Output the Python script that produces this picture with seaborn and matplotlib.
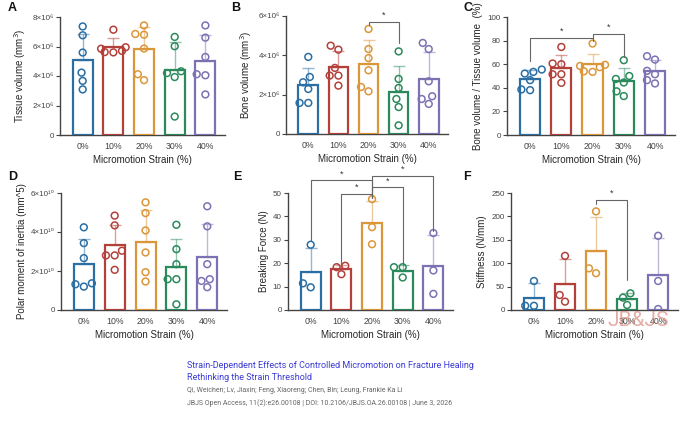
import numpy as np
import pandas as pd
import seaborn as sns
import matplotlib.pyplot as plt
from matplotlib.collections import PathCollection

# groups and colours
groups = ["0%", "10%", "20%", "30%", "40%"]
colors = ["#2a6ea3", "#b3403a", "#db963a", "#2b8a5c", "#7b72b3"]

# values (A: x10^6, B: x10^6, D: x10^10)
tissue_vol = [[7.36, 6.76, 5.59, 4.23, 3.67, 3.09],
              [7.14, 5.95, 5.85, 5.70, 5.60, 5.62],
              [7.43, 6.85, 6.80, 5.86, 4.12, 3.72],
              [6.65, 6.02, 4.32, 4.20, 3.93, 1.25],
              [7.43, 6.60, 5.29, 4.12, 4.05, 2.75]]
bone_vol = [[3.92, 2.90, 2.63, 2.29, 1.58, 1.58],
            [4.49, 4.29, 3.36, 2.97, 2.97, 2.46],
            [5.34, 4.32, 3.86, 3.24, 2.39, 2.17],
            [4.20, 2.80, 2.34, 1.78, 1.37, 0.44],
            [4.63, 4.32, 2.68, 1.92, 1.78, 1.53]]
bv_tv = [[55.5, 53.5, 52.1, 46.5, 38.6, 38.0],
         [74.6, 60.6, 60.0, 51.5, 51.5, 44.2],
         [77.5, 59.5, 58.5, 57.5, 54.0, 53.5],
         [63.4, 50.0, 47.5, 44.5, 37.0, 33.0],
         [66.8, 63.9, 54.4, 51.5, 46.5, 43.7]]
polar_moment = [[4.24, 3.43, 2.66, 1.37, 1.32, 1.20],
                [4.84, 4.34, 3.04, 2.80, 2.80, 2.06],
                [5.52, 4.97, 4.08, 2.95, 1.94, 1.46],
                [4.37, 3.12, 2.35, 1.58, 1.58, 0.29],
                [5.32, 4.29, 2.35, 1.58, 1.49, 1.17]]
breaking_force = [[27.9, 11.4, 9.7],
                  [18.9, 18.3, 15.3],
                  [47.4, 35.4, 28.1],
                  [18.3, 18.3, 13.9],
                  [32.9, 16.9, 6.9]]
stiffness = [[62, 9, 9],
             [115.7, 32, 17.9],
             [210.7, 89, 78.6],
             [35.7, 26.4, 10.7],
             [158.6, 62, 2.1]]

# significance brackets: (group1, group2, height, left leg end, right leg end)
brackets_b = [(2, 3, 5.68, 5.56, 4.63)]
brackets_c = [(0, 2, 82.5, 63, 80), (2, 3, 86, 82.5, 66)]
brackets_e = [(0, 2, 55.4, 29.3, 48), (1, 2, 49.7, 19.3, 48),
              (2, 3, 52.4, 48, 19.3), (2, 4, 57.4, 48, 33.6)]
brackets_f = [(2, 3, 235.7, 226, 64)]

sns.set_theme(style="ticks")
plt.rcParams["font.family"] = ["Liberation Sans", "DejaVu Sans"]
plt.rcParams["axes.edgecolor"] = "#444444"
plt.rcParams["xtick.color"] = "#444444"
plt.rcParams["ytick.color"] = "#444444"


def long_df(values):
    rows = [(g, v) for g, vals in zip(groups, values) for v in vals]
    return pd.DataFrame(rows, columns=["strain", "value"])


def sci_label(exp):
    sup = str.maketrans("0123456789", "⁰¹²³⁴⁵⁶⁷⁸⁹")
    def fmt(v, pos):
        if v == 0:
            return "0"
        return f"{v:g}×10{str(exp).translate(sup)}"
    return fmt


def panel(ax, values, ymax, step, ylabel, exp=None, brackets=(), star_dy=0.0):
    df = long_df(values)
    sns.swarmplot(data=df, x="strain", y="value", hue="strain", order=groups,
                  palette=colors, size=4.9, legend=False, ax=ax, zorder=4)
    for coll in ax.collections:
        if isinstance(coll, PathCollection):
            fc = coll.get_facecolors()
            coll.set_edgecolors(fc)
            coll.set_facecolors("none")
            coll.set_linewidth(1.1)
    sns.barplot(data=df, x="strain", y="value", hue="strain", order=groups,
                palette=colors, fill=False, errorbar=None, width=0.65,
                linewidth=1.6, legend=False, ax=ax, zorder=3)
    stats = df.groupby("strain", sort=False)["value"].agg(["mean", "std"])
    for i, g in enumerate(groups):
        ax.errorbar(i, stats.loc[g, "mean"], yerr=[[0], [stats.loc[g, "std"]]],
                    fmt="none", ecolor=colors[i], alpha=0.5, elinewidth=1.0,
                    capsize=4.5, capthick=1.0, zorder=2)
    for g1, g2, y, y1, y2 in brackets:
        ax.plot([g1, g1, g2, g2], [y1, y, y, y2], color="#666666", lw=0.8,
                clip_on=False, zorder=5)
        ax.text((g1 + g2) / 2, y + star_dy, "*", ha="center", va="bottom",
                fontsize=6.5, color="#333333", clip_on=False)

    ax.set_xlim(-0.74, 4.64)
    ax.set_ylim(0, ymax)
    ax.set_yticks(np.arange(0, ymax + step / 2, step))
    if exp is not None:
        ax.yaxis.set_major_formatter(plt.FuncFormatter(sci_label(exp)))
    ax.set_xlabel("Micromotion Strain (%)", fontsize=7, labelpad=3)
    ax.set_ylabel(ylabel, fontsize=7, labelpad=3)
    ax.tick_params(axis="x", length=0, labelsize=6.3, pad=5)
    ax.tick_params(axis="y", length=3, width=0.8, labelsize=5.8, pad=1.5)
    for s in ["left", "bottom"]:
        ax.spines[s].set_linewidth(1.0)
    sns.despine(ax=ax)


fig = plt.figure(figsize=(6.8, 4.26), dpi=100)
W, H = 680, 426


def axes_px(left, right, top, bottom):
    return fig.add_axes([left / W, 1 - bottom / H, (right - left) / W, (bottom - top) / H])


ax_a = axes_px(60, 225, 17, 135)
ax_b = axes_px(286, 448, 16, 134)
ax_c = axes_px(507, 675, 17, 135)
ax_d = axes_px(61, 227, 193, 310)
ax_e = axes_px(288, 453, 193, 310)
ax_f = axes_px(511, 678, 193, 310)

panel(ax_a, tissue_vol, 8, 2, "Tissue volume (mm$^3$)", exp=6)
panel(ax_b, bone_vol, 6, 2, "Bone volume (mm$^3$)", exp=6, brackets=brackets_b, star_dy=0.12)
panel(ax_c, bv_tv, 100, 20, "Bone volume / Tissue volume  (%)", brackets=brackets_c, star_dy=1.5)
panel(ax_d, polar_moment, 6, 2, "Polar moment of inertia (mm^5)", exp=10)
panel(ax_e, breaking_force, 50, 10, "Breaking Force (N)", brackets=brackets_e, star_dy=0.8)
panel(ax_f, stiffness, 250, 50, "Stiffness (N/mm)", brackets=brackets_f, star_dy=4)

for letter, x, y in [("A", 8, 8), ("B", 231, 8), ("C", 463, 8),
                     ("D", 8, 177), ("E", 233, 177), ("F", 463, 177)]:
    fig.text(x / W, 1 - y / H, letter, fontsize=9, fontweight="bold",
             ha="left", va="center", color="#111111")

# watermark
fig.text(608 / W, 1 - 321 / H, "JB&JS", fontsize=15, color="#d98a80",
         alpha=0.7, ha="left", va="center", family=["Roboto", "DejaVu Sans"])

# citation block
fig.text(187 / W, 1 - 366 / H, "Strain-Dependent Effects of Controlled Micromotion on Fracture Healing",
         fontsize=6.5, color="#3b3bd4", ha="left", va="center", family=["Roboto", "DejaVu Sans"])
fig.text(187 / W, 1 - 378 / H, "Rethinking the Strain Threshold",
         fontsize=6.5, color="#3b3bd4", ha="left", va="center", family=["Roboto", "DejaVu Sans"])
fig.text(187 / W, 1 - 391 / H, "Qi, Weichen; Lv, Jiaxin; Feng, Xiaoreng; Chen, Bin; Leung, Frankie Ka Li",
         fontsize=5.0, color="#666666", ha="left", va="center", family=["Roboto", "DejaVu Sans"])
fig.text(187 / W, 1 - 403 / H, "JBJS Open Access, 11(2):e26.00108 | DOI: 10.2106/JBJS.OA.26.00108 | June 3, 2026",
         fontsize=5.0, color="#666666", ha="left", va="center", family=["Roboto", "DejaVu Sans"])

fig.savefig("out.png", dpi=100)
